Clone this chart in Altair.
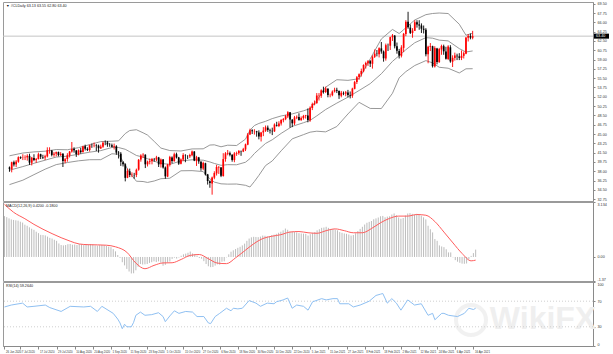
import altair as alt
import pandas as pd

# ---------------- data ----------------
# the broker feed has bars on US holidays except these
holidays = ["2020-12-25", "2021-01-01", "2021-04-02"]

opens = [
    38.70, 38.40, 39.70,
    39.30, 39.80, 40.65, 40.60, 40.60, 40.60, 40.90, 39.60, 40.50, 40.10, 40.30, 41.20, 40.70, 40.60, 40.80, 41.90, 41.90, 41.10, 41.30, 41.60, 41.00, 41.30, 39.90,
    40.30, 41.00, 41.70, 42.20, 41.90, 41.20, 41.90, 41.60, 42.70, 42.20, 42.00, 42.90, 42.90, 42.90, 42.80, 42.30, 42.60, 43.40, 43.40, 43.00, 42.90,
    42.60, 42.70, 41.50, 41.30, 39.70, 39.30, 36.80, 38.00, 37.30, 37.30, 37.30, 38.30, 40.20, 41.00, 41.10, 39.30, 39.80, 39.90, 40.30, 40.20, 40.60, 39.30,
    40.20, 38.70, 37.00, 39.20, 40.60, 39.90, 41.20, 40.60, 39.40, 40.20, 41.00, 40.90, 40.80, 41.00, 41.70, 40.00, 40.60, 39.80, 38.50, 39.50, 37.40, 36.10,
    35.70, 36.80, 37.60, 38.70, 38.70, 37.10, 40.30, 41.30, 41.40, 41.10, 40.10, 41.30, 41.40, 41.80, 41.70, 42.10, 43.00, 44.90, 45.70, 45.50, 45.50,
    45.30, 44.50, 45.30, 45.60, 46.20, 45.70, 45.60, 45.50, 46.70, 46.50, 47.00, 47.60, 47.80, 48.30, 49.10, 47.70, 47.00, 48.10, 48.20, 47.60, 48.00, 48.40,
    48.50, 47.60, 49.90, 50.60, 50.80, 52.20, 52.20, 53.20, 52.90, 53.50, 52.30, 52.30, 53.00, 53.30, 53.10, 52.20, 52.70, 52.60, 52.80, 52.30,
    52.20, 53.50, 54.80, 55.70, 56.20, 56.80, 58.00, 58.30, 58.70, 58.20, 59.50, 60.10, 60.00, 61.10, 60.50, 59.20, 61.70, 61.60, 63.20, 63.50,
    61.50, 60.60, 59.70, 61.20, 63.80, 66.10, 65.00, 64.00, 64.40, 66.00, 65.60, 65.40, 64.80, 64.60, 60.00, 61.40, 61.50, 57.70, 61.10, 58.50, 60.90, 61.50, 60.50,
    59.10, 61.30, 58.60, 59.30, 59.70, 59.60, 59.30, 59.70, 60.10, 63.10, 63.40, 63.10,
]
highs = [
    38.90, 39.80, 40.00,
    40.10, 40.80, 40.80, 41.20, 41.00, 41.20, 41.30, 40.70, 41.20, 40.50, 41.50, 41.30, 41.10, 41.10, 42.50, 42.50, 42.00, 41.60, 41.70, 41.70, 41.60, 41.40, 40.50,
    41.40, 41.80, 43.50, 42.50, 42.00, 42.10, 42.40, 42.80, 43.00, 42.50, 43.00, 43.20, 43.40, 43.10, 43.00, 43.00, 43.60, 43.80, 43.70, 43.30, 43.20,
    43.20, 42.90, 41.80, 41.60, 39.90, 39.50, 38.50, 38.50, 37.80, 37.70, 38.50, 40.30, 41.20, 41.40, 41.20, 40.00, 40.40, 40.50, 40.50, 40.90, 40.70, 40.40,
    40.30, 38.90, 39.40, 40.90, 40.80, 41.50, 41.50, 40.70, 40.40, 41.40, 41.20, 41.00, 41.30, 41.90, 41.80, 40.90, 40.70, 39.90, 39.80, 39.60, 37.50, 36.30,
    37.00, 38.00, 39.20, 39.00, 38.80, 41.40, 41.60, 42.00, 41.70, 41.20, 41.60, 41.70, 42.00, 41.90, 42.40, 43.20, 45.20, 46.00, 45.90, 45.90, 45.60,
    45.70, 45.40, 46.30, 46.60, 46.60, 46.00, 46.20, 47.00, 47.30, 47.40, 47.80, 48.00, 48.60, 49.30, 49.10, 47.80, 48.40, 48.50, 48.90, 48.30, 48.60, 48.60,
    49.80, 50.20, 50.90, 51.30, 52.70, 52.70, 53.40, 53.90, 53.90, 53.60, 52.60, 53.20, 53.70, 53.70, 53.20, 53.10, 53.00, 53.10, 53.30, 53.00,
    53.70, 55.00, 55.90, 56.40, 57.30, 58.10, 58.60, 58.90, 58.90, 59.80, 60.90, 60.80, 61.30, 62.30, 60.70, 62.00, 62.00, 63.30, 63.80, 63.60,
    62.20, 61.00, 61.70, 64.00, 66.40, 67.98, 65.60, 64.90, 66.40, 66.40, 66.40, 65.80, 65.40, 64.90, 61.60, 62.10, 61.60, 61.50, 61.20, 61.20, 61.80, 61.80, 61.40,
    61.70, 61.70, 59.80, 60.30, 60.10, 60.20, 60.70, 60.50, 63.20, 63.80, 63.90, 64.40,
]
lows = [
    37.90, 37.80, 38.90,
    38.80, 39.60, 40.30, 40.10, 40.10, 40.00, 39.20, 39.10, 39.90, 39.60, 40.20, 40.30, 40.30, 40.10, 40.60, 41.30, 40.80, 40.70, 40.80, 40.80, 40.90, 38.80, 39.50,
    39.80, 40.60, 41.50, 41.50, 40.70, 41.00, 41.30, 41.50, 41.90, 41.80, 41.70, 42.40, 42.50, 41.80, 41.50, 42.20, 42.40, 42.90, 42.60, 42.60, 42.50,
    42.10, 41.10, 40.40, 39.00, 38.90, 36.10, 36.70, 36.90, 36.90, 36.60, 36.90, 38.10, 39.80, 40.50, 38.60, 38.90, 39.30, 39.30, 39.80, 39.90, 38.80, 38.70,
    38.50, 36.60, 36.90, 38.90, 39.50, 39.80, 40.40, 39.20, 39.30, 39.90, 39.70, 40.30, 40.50, 40.80, 39.90, 39.00, 39.40, 38.10, 38.20, 37.20, 35.50, 34.90,
    33.60, 36.50, 37.20, 37.50, 36.90, 37.00, 39.80, 41.00, 40.80, 39.80, 39.70, 40.90, 41.10, 40.90, 41.60, 41.80, 42.90, 44.80, 45.00, 44.90, 44.50,
    44.00, 43.60, 44.60, 45.40, 45.40, 45.10, 44.80, 45.40, 46.40, 46.30, 46.60, 47.20, 47.60, 48.00, 46.20, 46.30, 46.70, 47.80, 47.50, 47.50, 47.70, 47.90,
    47.20, 47.30, 49.50, 50.40, 50.70, 51.30, 51.80, 52.60, 52.70, 51.90, 51.90, 52.10, 52.80, 52.70, 51.60, 51.90, 52.30, 52.10, 51.90, 51.70,
    51.80, 53.40, 54.40, 55.20, 55.80, 56.60, 57.30, 57.80, 57.60, 57.30, 59.30, 59.60, 59.40, 60.10, 58.60, 58.80, 60.60, 60.80, 62.50, 61.10,
    60.10, 59.20, 59.40, 60.40, 63.40, 64.80, 63.80, 63.10, 64.40, 65.00, 64.60, 64.00, 63.90, 59.60, 58.30, 60.60, 57.50, 57.50, 58.10, 58.40, 59.90, 59.90, 59.00,
    58.90, 58.40, 57.60, 58.80, 58.90, 58.90, 58.90, 59.20, 60.00, 62.40, 62.80, 62.80,
]
closes = [
    38.49, 39.70, 39.27,
    39.82, 40.65, 40.50, 40.63, 40.62, 40.90, 39.62, 40.55, 40.10, 40.29, 41.20, 40.75, 40.59, 40.81, 41.96, 41.90, 41.07, 41.29, 41.60, 41.04, 41.27, 39.92, 40.27,
    41.01, 41.70, 42.19, 41.95, 41.22, 41.94, 41.61, 42.67, 42.24, 42.01, 42.89, 42.89, 42.93, 42.82, 42.34, 42.62, 43.35, 43.39, 43.04, 42.97, 42.61,
    42.76, 41.51, 41.37, 39.77, 39.30, 36.76, 38.05, 37.30, 37.33, 37.26, 38.28, 40.16, 40.97, 41.11, 39.31, 39.80, 39.93, 40.31, 40.25, 40.60, 39.29, 40.22,
    38.72, 37.05, 39.22, 40.67, 39.95, 41.19, 40.60, 39.43, 40.20, 41.04, 40.96, 40.88, 41.06, 41.70, 40.03, 40.64, 39.85, 38.56, 39.57, 37.39, 36.17, 35.79,
    36.81, 37.66, 38.79, 38.79, 37.14, 40.29, 41.36, 41.45, 41.12, 40.13, 41.34, 41.43, 41.82, 41.74, 42.15, 43.06, 44.91, 45.71, 45.53, 45.53, 45.34,
    44.55, 45.28, 45.64, 46.26, 45.76, 45.60, 45.52, 46.78, 46.57, 46.99, 47.62, 47.82, 48.36, 49.10, 47.74, 47.02, 48.12, 48.23, 47.62, 48.00, 48.40, 48.52,
    47.62, 49.93, 50.63, 50.83, 52.24, 52.25, 53.21, 52.91, 53.57, 52.36, 52.30, 52.98, 53.31, 53.13, 52.27, 52.77, 52.61, 52.85, 52.34, 52.20,
    53.55, 54.76, 55.69, 56.23, 56.85, 57.97, 58.36, 58.68, 58.24, 59.47, 60.10, 60.05, 61.14, 60.52, 59.24, 61.70, 61.67, 63.22, 63.53, 61.50,
    60.64, 59.75, 61.28, 63.83, 66.09, 65.05, 64.01, 64.44, 66.02, 65.61, 65.39, 64.80, 64.60, 60.00, 61.42, 61.55, 57.76, 61.18, 58.56, 60.97, 61.56, 60.55, 59.16,
    61.45, 58.65, 59.33, 59.77, 59.60, 59.32, 59.70, 60.18, 63.15, 63.46, 63.13, 63.40,
]

# Bollinger bands (20, 2) read at sample bars
bb_idx = [0, 6, 11, 16, 21, 26, 31, 36, 41, 46, 49, 52, 54, 57, 60, 62, 65, 68, 72, 77, 82, 87, 90, 92, 95, 98, 102,
          106, 108, 110, 112, 115, 118, 122, 127, 132, 135, 138, 142, 147, 152, 157, 162, 167, 172, 175, 178, 182,
          187, 190, 193, 197, 202, 205, 208]
bb_mid = [38.20, 38.88, 39.50, 40.08, 40.67, 40.84, 41.20, 41.59, 41.88, 42.47, 42.46, 42.13, 41.68, 40.97, 40.65, 40.36,
          39.89, 39.48, 39.29, 39.95, 40.16, 40.08, 39.75, 39.47, 39.12, 39.24, 39.22, 39.70, 40.38, 41.34, 42.11, 43.23,
          43.92, 45.12, 46.44, 47.12, 47.57, 48.41, 49.61, 50.81, 51.93, 53.18, 54.47, 56.33, 58.66, 59.73, 60.85, 62.16,
          63.12, 63.02, 62.65, 62.51, 61.06, 60.42, 60.62]
bb_upper = [40.91, 41.43, 41.64, 41.77, 42.09, 42.04, 42.44, 43.01, 43.58, 43.65, 43.72, 45.09, 45.66, 45.81, 45.23, 44.80,
            43.61, 42.36, 41.89, 41.81, 42.20, 42.22, 42.93, 42.97, 42.60, 42.90, 42.84, 44.04, 45.72, 46.60, 46.99, 47.39,
            47.90, 48.40, 48.78, 49.36, 49.79, 51.29, 53.81, 55.21, 55.09, 55.40, 59.13, 62.87, 64.66, 63.89, 64.97, 66.44,
            67.44, 67.66, 67.75, 67.65, 65.64, 63.58, 63.96]
bb_lower = [35.49, 36.32, 37.36, 38.39, 39.25, 39.64, 39.96, 40.17, 40.18, 41.29, 41.20, 39.17, 37.70, 36.13, 36.07, 35.90,
            36.17, 36.60, 36.69, 38.09, 38.12, 37.94, 36.57, 35.97, 35.64, 35.58, 35.60, 35.36, 35.04, 36.08, 37.23, 39.07,
            39.94, 41.84, 44.10, 44.88, 45.35, 45.53, 45.41, 46.41, 48.77, 50.96, 49.81, 49.79, 52.66, 55.57, 56.73, 57.88,
            58.80, 58.38, 57.55, 57.37, 56.48, 57.26, 57.28]

# MACD (12,26,9): histogram = main line, one value per bar
macd_hist = [
    2.33, 2.27, 2.20, 2.14, 2.11, 2.09, 2.07, 2.01, 1.96, 1.84,
    1.78, 1.69, 1.61, 1.55, 1.44, 1.36, 1.26, 1.25, 1.23, 1.16,
    1.09, 1.05, 0.98, 0.92, 0.77, 0.68, 0.66, 0.68, 0.73, 0.74,
    0.70, 0.71, 0.68, 0.73, 0.72, 0.68, 0.72, 0.73, 0.73, 0.72,
    0.66, 0.65, 0.67, 0.68, 0.66, 0.63, 0.59, 0.56, 0.45, 0.32,
    0.11, -0.05, -0.30, -0.48, -0.68, -0.83, -0.94, -0.93, -0.76, -0.56,
    -0.40, -0.43, -0.42, -0.40, -0.34, -0.30, -0.25, -0.29, -0.25, -0.32,
    -0.50, -0.45, -0.31, -0.26, -0.11, -0.04, -0.09, -0.03, 0.07, 0.15,
    0.19, 0.24, 0.31, 0.20, 0.17, 0.07, -0.06, -0.10, -0.24, -0.40,
    -0.53, -0.58, -0.57, -0.49, -0.42, -0.44, -0.27, -0.25, -0.02, 0.15,
    0.30, 0.38, 0.45, 0.52, 0.58, 0.66, 0.76, 0.92, 1.05, 1.12,
    1.15, 1.14, 1.13, 1.16, 1.22, 1.21, 1.18, 1.17, 1.25, 1.27,
    1.32, 1.38, 1.44, 1.52, 1.62, 1.55, 1.45, 1.45, 1.44, 1.40,
    1.36, 1.34, 1.33, 1.32, 1.22, 1.30, 1.38, 1.42, 1.52, 1.58,
    1.66, 1.68, 1.72, 1.66, 1.60, 1.58, 1.56, 1.52, 1.42, 1.38,
    1.34, 1.32, 1.28, 1.22, 1.25, 1.35, 1.48, 1.60, 1.72, 1.85,
    1.95, 2.00, 2.05, 2.15, 2.20, 2.25, 2.32, 2.34, 2.26, 2.30,
    2.32, 2.42, 2.48, 2.38, 2.25, 2.18, 2.22, 2.36, 2.48, 2.50,
    2.46, 2.42, 2.46, 2.42, 2.36, 2.26, 2.14, 1.78, 1.58, 1.40,
    1.02, 0.92, 0.66, 0.60, 0.56, 0.44, 0.26, 0.26, -0.02, -0.18,
    -0.27, -0.33, -0.38, -0.39, -0.37, -0.12, 0.06, 0.22, 0.42,
]
sig_idx = [0, 4, 9, 13, 17, 21, 25, 29, 33, 37, 41, 45, 49, 54, 58, 62, 66, 70, 74, 78, 82, 86, 90, 94, 98, 102,
           106, 110, 114, 118, 122, 126, 130, 134, 138, 142, 146, 150, 154, 158, 162, 166, 170, 174, 178, 182, 186,
           190, 194, 198, 202, 206, 208]
macd_signal = [3.00, 2.55, 2.18, 1.86, 1.58, 1.33, 1.10, 0.90, 0.74, 0.70, 0.69, 0.67, 0.58, 0.27, -0.35, -0.67, -0.48,
               -0.34, -0.33, -0.14, 0.09, 0.14, -0.10, -0.35, -0.38, -0.05, 0.35, 0.75, 1.05, 1.18, 1.27, 1.42, 1.45,
               1.38, 1.35, 1.50, 1.60, 1.50, 1.38, 1.38, 1.62, 1.95, 2.20, 2.33, 2.33, 2.42, 2.38, 2.02, 1.42, 0.80,
               0.20, -0.22, -0.18]

# RSI (14) read at sample bars
rsi_idx = [0, 3, 8, 10, 13, 18, 20, 25, 29, 35, 38, 41, 43, 48, 50, 51, 52, 53, 54, 56, 57, 58, 60, 62, 65, 68, 70, 71,
           73, 75, 77, 80, 83, 85, 88, 90, 91, 93, 95, 98, 100, 101, 103, 105, 108, 111, 113, 116, 119, 120, 123,
           125, 127, 129, 132, 134, 136, 140, 142, 145, 147, 148, 152, 154, 157, 161, 164, 166, 167, 169, 171, 173,
           175, 178, 181, 184, 187, 189, 190, 193, 194, 196, 198, 200, 203, 205, 207, 208]
rsi_val = [61, 64, 67, 61, 62, 64, 60, 54, 62, 61, 62, 54, 62, 51, 42, 36, 27, 34, 30, 30, 37, 48, 53, 48, 49, 52, 46, 38,
           47, 55, 51, 54, 53, 46, 46, 36, 35, 46, 51, 59, 55, 59, 58, 59, 71, 67, 62, 67, 66, 69, 72, 75, 59, 64, 62,
           56, 69, 74, 72, 74, 74, 66, 66, 61, 64, 70, 79, 81, 82, 67, 74, 67, 56, 72, 64, 66, 48, 51, 41, 51, 51, 48,
           47, 46, 51, 59, 57, 59]

x_labels = ["26 Jun 2020", "7 Jul 2020", "17 Jul 2020", "29 Jul 2020", "10 Aug 2020", "20 Aug 2020", "1 Sep 2020",
            "11 Sep 2020", "23 Sep 2020", "5 Oct 2020", "15 Oct 2020", "27 Oct 2020", "6 Nov 2020", "18 Nov 2020",
            "30 Nov 2020", "10 Dec 2020", "22 Dec 2020", "5 Jan 2021", "15 Jan 2021", "27 Jan 2021", "8 Feb 2021",
            "18 Feb 2021", "2 Mar 2021", "12 Mar 2021", "24 Mar 2021", "6 Apr 2021", "16 Apr 2021"]
price_ticks = [69.50, 67.75, 66.00, 64.25, 62.50, 60.75, 59.00, 57.25, 55.50, 53.75, 52.00, 50.25, 48.50, 46.75,
               45.00, 43.25, 41.50, 39.75, 38.00, 36.25, 34.50, 32.75]
bid_price = [63.40]
macd_ticks = [3.134, 0.0, -1.37]
rsi_ticks = [100, 70, 30, 0]
rsi_levels = [70, 30]

header_text = "#CLDaily  63.13 63.55 62.80 63.40"
macd_text = "MACD(12,26,9) 0.4200 -0.1800"
rsi_text = "RSI(14) 59.2640"
watermark_text = ["WikiFX"]

# ---------------- tables ----------------
bar_dates = [d for d in pd.bdate_range("2020-06-26", "2021-04-19") if d.strftime("%Y-%m-%d") not in holidays]
n = len(closes)
bar_dates = bar_dates[:n]
df = pd.DataFrame({"i": range(n), "o": opens, "h": highs, "l": lows, "c": closes})
df["dir"] = ["up" if c >= o else "down" for o, c in zip(opens, closes)]

bb = pd.DataFrame({"i": bb_idx, "upper": bb_upper, "mid": bb_mid, "lower": bb_lower}).melt(
    "i", var_name="band", value_name="v")
mdf = pd.DataFrame({"i": range(len(macd_hist)), "m": macd_hist, "z": [0.0] * len(macd_hist)})
sdf = pd.DataFrame({"i": sig_idx, "s": macd_signal})
rdf = pd.DataFrame({"i": rsi_idx, "r": rsi_val})
bid = pd.DataFrame({"p": bid_price, "t": [f"{p:.2f}" for p in bid_price]})
lev = pd.DataFrame({"r": rsi_levels})

date_to_idx = {d.strftime("%Y-%m-%d"): k for k, d in enumerate(bar_dates)}
tick_idx = []
for lab in x_labels:
    d = pd.to_datetime(lab, format="%d %b %Y").strftime("%Y-%m-%d")
    tick_idx.append(date_to_idx[d])
label_expr = " : ".join(f"datum.value == {k} ? '{lab}'" for k, lab in zip(tick_idx, x_labels)) + " : ''"

# ---------------- chart ----------------
W = 590
FONT = "Liberation Sans"
FS = 3.7      # right axis / panel captions
FSX = 2.8     # date labels
xs = alt.Scale(domain=[-0.66, 259.8], nice=False, zero=False)
X = alt.X("i:Q", scale=xs, axis=None)

def yaxis(values, fmt=None, expr=None, flush=False):
    kw = dict(orient="right", values=values, title=None, grid=False, labelFontSize=FS, labelFont=FONT,
              labelColor="#333333", tickSize=2, tickColor="#888888", domainColor="#8a8a8a",
              labelPadding=2, labelOverlap=False, labelFlush=flush)
    if not flush:
        kw["labelBaseline"] = "middle"
    if fmt:
        kw["format"] = fmt
    if expr:
        kw["labelExpr"] = expr
    return alt.Axis(**kw)

ps = alt.Scale(domain=[32.41, 69.82], nice=False, zero=False)
PAX = yaxis(price_ticks, ".2f")
col = alt.Color("dir:N", scale=alt.Scale(domain=["up", "down"], range=["#ff0000", "#000000"]), legend=None)

bands = alt.Chart(bb).mark_line(color="#8c8c8c", strokeWidth=0.9).encode(
    x=X, y=alt.Y("v:Q", scale=ps, axis=PAX), detail="band:N")
bidline = alt.Chart(bid).mark_rule(color="#c4c4c4", strokeWidth=1).encode(y=alt.Y("p:Q", scale=ps, axis=PAX))
wick = alt.Chart(df).mark_rule(strokeWidth=0.9).encode(
    x=X, y=alt.Y("l:Q", scale=ps, axis=PAX), y2="h:Q", color=col)
body = alt.Chart(df).mark_bar(size=1.7).encode(x=X, y=alt.Y("o:Q", scale=ps, axis=PAX), y2="c:Q", color=col)
bidbox = alt.Chart(bid).mark_rect(color="#000000", yOffset=-2.5, y2Offset=2.5, clip=False).encode(
    x=alt.value(W + 1), x2=alt.value(W + 16), y=alt.Y("p:Q", scale=ps, axis=PAX), y2="p:Q")
bidtxt = alt.Chart(bid).mark_text(color="#ffffff", fontSize=FS, font=FONT, align="left", baseline="middle",
                                   clip=False).encode(x=alt.value(W + 3), y=alt.Y("p:Q", scale=ps, axis=PAX),
                                                      text="t:N")
head = alt.Chart(pd.DataFrame({"t": ["\u25bc " + header_text]})).mark_text(
    fontSize=FS, font=FONT, align="left", baseline="top", color="#222222").encode(
    x=alt.value(3), y=alt.value(2), text="t:N")

price = alt.layer(bidline, bands, wick, body, bidbox, bidtxt, head).properties(width=W, height=199)

ms = alt.Scale(domain=[-1.37, 3.134], nice=False, zero=False)
macd_expr = "datum.value == 0 ? '0.00' : (datum.value > 3 ? '3.134' : '-1.37')"
MAX = yaxis(macd_ticks, expr=macd_expr, flush=True)
hist = alt.Chart(mdf).mark_rule(color="#bcbcbc", strokeWidth=1).encode(
    x=X, y=alt.Y("m:Q", scale=ms, axis=MAX), y2="z:Q")
sig = alt.Chart(sdf).mark_line(color="#ff5c5c", strokeWidth=1, interpolate="monotone").encode(
    x=X, y=alt.Y("s:Q", scale=ms, axis=MAX))
mhead = alt.Chart(pd.DataFrame({"t": [macd_text]})).mark_text(
    fontSize=FS, font=FONT, align="left", baseline="top", color="#222222").encode(
    x=alt.value(3), y=alt.value(2), text="t:N")
macd = alt.layer(hist, sig, mhead).properties(width=W, height=79)

rs = alt.Scale(domain=[0, 100], nice=False, zero=False)
RAX = yaxis(rsi_ticks, flush=True)
xaxis = alt.Axis(values=tick_idx, labelExpr=label_expr, title=None, grid=False, labelFontSize=FSX, labelFont=FONT,
                 labelColor="#333333", labelAlign="left", labelPadding=1, labelOffset=1, tickSize=3,
                 tickColor="#888888", domainColor="#8a8a8a", labelOverlap=False, labelFlush=False)
wm_df = pd.DataFrame({"t": watermark_text})
logo = alt.Chart(wm_df).mark_point(shape="circle", filled=False, size=900, stroke="#ececec", strokeWidth=4,
                                   clip=False).encode(x=alt.value(468), y=alt.value(38))
watermark = alt.Chart(wm_df).mark_text(
    fontSize=32, font="Liberation Sans", fontWeight="bold", color="#efefef", align="center", baseline="middle",
    clip=False).encode(x=alt.value(540), y=alt.value(37), text="t:N")
levels = alt.Chart(lev).mark_rule(color="#cfcfcf", strokeDash=[1, 2], strokeWidth=1).encode(
    y=alt.Y("r:Q", scale=rs, axis=RAX))
rline = alt.Chart(rdf).mark_line(color="#8fc0f2", strokeWidth=1).encode(
    x=alt.X("i:Q", scale=xs, axis=xaxis), y=alt.Y("r:Q", scale=rs, axis=RAX))
rhead = alt.Chart(pd.DataFrame({"t": [rsi_text]})).mark_text(
    fontSize=FS, font=FONT, align="left", baseline="top", color="#222222").encode(
    x=alt.value(3), y=alt.value(2), text="t:N")
rsi = alt.layer(logo, watermark, levels, rline, rhead).properties(width=W, height=64)

chart = alt.vconcat(price, macd, rsi, spacing=1, bounds="flush").properties(
    padding={"left": 1, "top": 1, "right": 0, "bottom": 0}, background="#ffffff"
).configure_view(stroke="#9a9a9a", strokeWidth=1).configure_axis(labelOverlap=False)

chart.save("out.html", embed_options={"renderer": "svg", "actions": False})
